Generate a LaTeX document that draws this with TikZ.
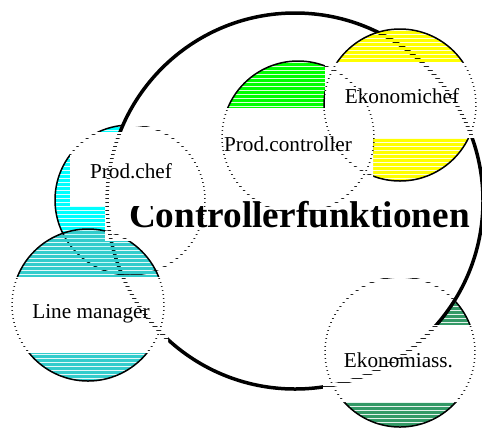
\documentclass[tikz,border=0pt]{standalone}
\usepackage{fontspec}
\setmainfont{Liberation Serif}
\definecolor{prodchefcyan}{RGB}{0,255,255}
\definecolor{linemanagerteal}{RGB}{51,204,204}
\definecolor{controllergreen}{RGB}{0,255,0}
\definecolor{ekonomiyellow}{RGB}{255,255,0}
\definecolor{assgreen}{RGB}{51,153,102}
\tikzstyle{label}=[inner sep=0pt, anchor=base, font=\fontsize{21.3}{25}\selectfont]
\tikzstyle{headline}=[inner sep=0pt, anchor=base, font=\fontsize{37.4}{44}\selectfont\bfseries]
\tikzstyle{rim}=[line width=1.5bp]
\tikzstyle{bigrim}=[line width=3.5bp]
% horizontal bands, 3 wide with a 1 wide gap
\newcommand{\bands}[5]{%
  \pgfmathtruncatemacro{\ka}{floor((#3)/4)}%
  \pgfmathtruncatemacro{\kb}{ceil((#5)/4)+1}%
  \fill[#1] \foreach \k in {\ka,...,\kb} {({#2},{4*\k-1}) rectangle ({#4},{4*\k+2})};%
}
\newcommand{\hatchcircle}[4]{%
  \begin{scope}
    \clip (#2,#3) circle (#4);
    \bands{#1}{#2-#4}{#3-#4}{#2+#4}{#3+#4}
  \end{scope}
  \draw[rim] (#2,#3) circle (#4);
}
% all rims, seen through the gaps of a window
\newcommand{\allrims}{%
  \draw[rim] (400,352) circle (75) (130,200) circle (75) (88,305) circle (76)
    (298,137) circle (76) (400,105) circle (76);
  \draw[bigrim] (295,201) circle (188);
}
\newcommand{\windowbox}[4]{%
  \begin{scope}
    \clip (#1,#2) rectangle (#3,#4);
    \fill[white] (#1,#2) rectangle (#3,#4);
    \allrims
    \bands{white}{#1}{#2}{#3}{#4}
  \end{scope}
}

\begin{document}
\begin{tikzpicture}[x=1bp, y=-1bp]
\useasboundingbox (0,0) rectangle (482,427);
% Circles under the big one
    \hatchcircle{assgreen}{400}{352}{75}
    \hatchcircle{prodchefcyan}{130}{200}{75}
% Big circle
    \begin{scope}
      \clip (295,201) circle (188);
      \fill[white] (295,201) circle (188);
      \draw[rim] (400,352) circle (75) (130,200) circle (75);
      \bands{white}{107}{13}{483}{389}
    \end{scope}
    \draw[bigrim] (295,201) circle (188);
% Circles on top
    \hatchcircle{linemanagerteal}{88}{305}{76}
    \hatchcircle{controllergreen}{298}{137}{76}
    \hatchcircle{ekonomiyellow}{400}{105}{76}
% Headline
    \windowbox{105}{186}{470}{240}
    \node[headline] (headline) at (299.5,227) {Controllerfunktionen};
% Text windows
    \windowbox{70}{132}{210}{205}
    \windowbox{221}{108}{373}{186}
    \windowbox{325}{62}{482}{137}
    \windowbox{323}{325}{482}{402}
    \windowbox{10}{277}{168}{352}
% Labels
    \node[label] (prodchef) at (131,178) {Prod.chef};
    \node[label] (prodcontroller) at (288,151) {Prod.controller};
    \node[label] (ekonomichef) at (402,103) {Ekonomichef};
    \node[label] (linemanager) at (91,318) {Line manager};
    \node[label] (ekonomiass) at (398.5,367) {Ekonomiass.};
\end{tikzpicture}
\end{document}
